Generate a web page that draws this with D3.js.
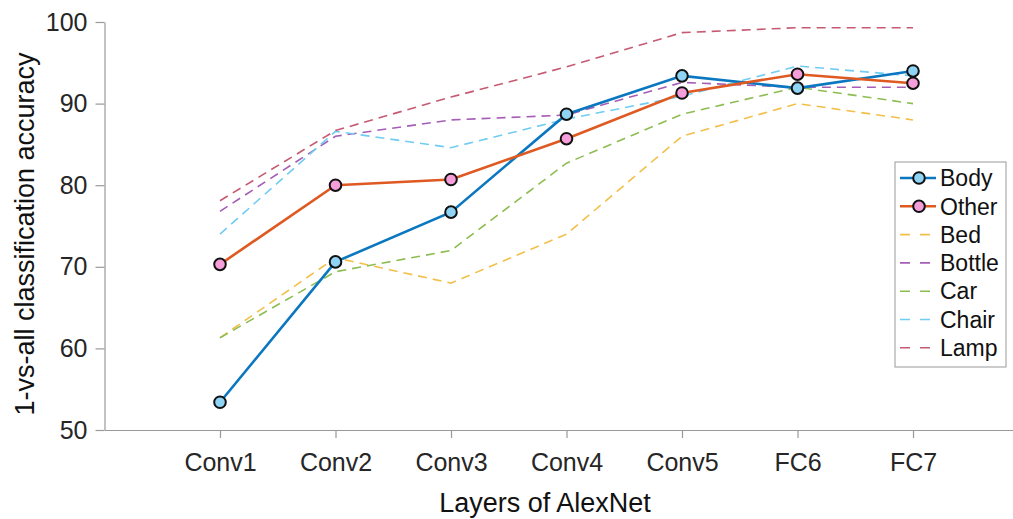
<!DOCTYPE html>
<html>
<head>
<meta charset="utf-8">
<script src="https://cdn.jsdelivr.net/npm/d3@7"></script>
<style>
  body { margin: 0; background: #fff; }
  svg { font-family: Helvetica, "Liberation Sans", Arial, sans-serif; }
  .axis path, .axis line { stroke: #999; stroke-width: 1.2; }
  .axis text { fill: #262626; font-size: 25px; }
</style>
</head>
<body>
<div id="chart"></div>
<script>
// chart data
var layers = ["Conv1", "Conv2", "Conv3", "Conv4", "Conv5", "FC6", "FC7"];
var yTicks = [50, 60, 70, 80, 90, 100];

var body   = [53.4, 70.6, 76.7, 88.7, 93.4, 91.9, 94.0];
var other  = [70.3, 80.0, 80.7, 85.7, 91.3, 93.6, 92.5];
var bed    = [61.3, 71.1, 68.0, 74.0, 86.0, 90.0, 88.0];
var bottle = [76.8, 86.0, 88.0, 88.6, 92.6, 92.0, 92.0];
var car    = [61.3, 69.4, 72.0, 82.7, 88.7, 92.0, 90.0];
var chair  = [74.0, 86.6, 84.6, 88.1, 90.9, 94.6, 93.4];
var lamp   = [78.1, 86.7, 90.8, 94.5, 98.7, 99.3, 99.3];

var width = 1013, height = 519;

var svg = d3.select("#chart").append("svg")
  .attr("width", width).attr("height", height);

// scales - layer index 0..8, axis starts at 0 and runs past the window
var x = d3.scaleLinear().domain([0, 8]).range([104.5, 1028.5]);
var y = d3.scaleLinear().domain([50, 100]).range([430, 22]);

// axes
svg.append("g").attr("class", "axis")
  .attr("transform", "translate(0,430)")
  .call(d3.axisBottom(x)
    .tickValues(d3.range(1, layers.length + 1))
    .tickFormat(function(i) { return layers[i - 1]; })
    .tickSize(8).tickSizeOuter(0).tickPadding(15));

svg.append("g").attr("class", "axis")
  .attr("transform", "translate(104.5,0)")
  .call(d3.axisLeft(y).tickValues(yTicks).tickSize(9).tickSizeOuter(0).tickPadding(8));

// axis titles
svg.append("text")
  .attr("x", 545).attr("y", 512)
  .attr("text-anchor", "middle")
  .style("font-size", "27px").style("fill", "#111")
  .text("Layers of AlexNet");

svg.append("text")
  .attr("transform", "translate(34,234) rotate(-90)")
  .attr("text-anchor", "middle")
  .style("font-size", "27px").style("fill", "#111")
  .text("1-vs-all classification accuracy");

var line = d3.line()
  .x(function(d, i) { return x(i + 1); })
  .y(function(d) { return y(d); });

// dashed per-category lines (drawn under the main ones)
var dashed = [
  { name: "Bed",    values: bed,    color: "#f2c04a" },
  { name: "Bottle", values: bottle, color: "#a55db6" },
  { name: "Car",    values: car,    color: "#8dbd52" },
  { name: "Chair",  values: chair,  color: "#70ccf2" },
  { name: "Lamp",   values: lamp,   color: "#c65a72" }
];

dashed.forEach(function(s) {
  svg.append("path")
    .datum(s.values)
    .attr("d", line)
    .attr("fill", "none")
    .attr("stroke", s.color)
    .attr("stroke-width", 1.6)
    .attr("stroke-dasharray", "9,6");
});

// main series with markers
var main = [
  { name: "Body",  values: body,  color: "#0b77c0", fill: "#8fd4f4" },
  { name: "Other", values: other, color: "#de5a22", fill: "#f59ed9" }
];

main.forEach(function(s) {
  svg.append("path")
    .datum(s.values)
    .attr("d", line)
    .attr("fill", "none")
    .attr("stroke", s.color)
    .attr("stroke-width", 2.6);
});
main.forEach(function(s) {
  svg.selectAll(null)
    .data(s.values)
    .enter().append("circle")
    .attr("cx", function(d, i) { return x(i + 1); })
    .attr("cy", function(d) { return y(d); })
    .attr("r", 5.8)
    .attr("fill", s.fill)
    .attr("stroke", "#111")
    .attr("stroke-width", 2);
});

// legend
var legend = svg.append("g").attr("transform", "translate(895,162)");
legend.append("rect")
  .attr("width", 111).attr("height", 205)
  .attr("fill", "#fff").attr("stroke", "#aaa").attr("stroke-width", 1.2);

var items = main.concat(dashed);
items.forEach(function(s, i) {
  var ry = 16 + i * 28.3;
  var g = legend.append("g");
  g.append("line")
    .attr("x1", 5).attr("x2", 41).attr("y1", ry).attr("y2", ry)
    .attr("stroke", s.color)
    .attr("stroke-width", s.fill ? 2.6 : 1.6)
    .attr("stroke-dasharray", s.fill ? null : "10,10");
  if (s.fill) {
    g.append("circle")
      .attr("cx", 24).attr("cy", ry).attr("r", 5.8)
      .attr("fill", s.fill).attr("stroke", "#111").attr("stroke-width", 2);
  }
  g.append("text")
    .attr("x", 45).attr("y", ry).attr("dy", "0.36em")
    .style("font-size", "23px").style("fill", "#111")
    .text(s.name);
});
</script>
</body>
</html>
